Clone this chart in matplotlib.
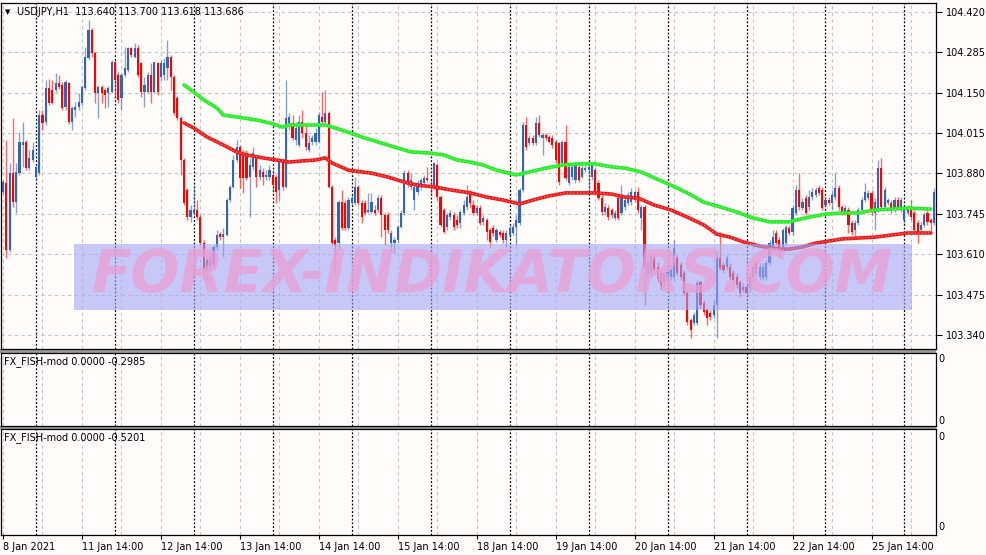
import matplotlib
matplotlib.use('Agg')
import matplotlib.pyplot as plt
import numpy as np
from matplotlib.patches import Rectangle

# ---------------- data (USDJPY H1 candles) ----------------
opens = [
103.818, 103.848, 103.624, 103.881, 103.784, 103.881, 103.975, 103.985, 103.898, 103.925,
103.868, 103.881, 104.075, 104.052, 104.166, 104.159, 104.159, 104.182, 104.176, 104.102,
104.182, 104.052, 104.092, 104.102, 104.116, 104.166, 104.266, 104.360, 104.283, 104.149,
104.169, 104.159, 104.149, 104.152, 104.253, 104.209, 104.132, 104.209, 104.226, 104.299,
104.269, 104.299, 104.249, 104.152, 104.152, 104.209, 104.152, 104.249, 104.203, 104.209,
104.233, 104.269, 104.203, 104.132, 104.065, 103.925, 103.825, 103.734, 103.748, 103.758,
103.734, 103.647, 103.557, 103.597, 103.574, 103.634, 103.677, 103.667, 103.674, 103.791,
103.835, 103.925, 103.968, 103.948, 103.948, 103.868, 103.902, 103.935, 103.868, 103.885,
103.868, 103.868, 103.875, 103.868, 103.825, 103.918, 103.835, 104.049, 104.049, 103.992,
103.975, 104.052, 104.015, 103.958, 103.985, 103.985, 103.985, 104.069, 104.052, 104.082,
103.835, 103.657, 103.647, 103.784, 103.781, 103.698, 103.781, 103.781, 103.835, 103.781,
103.781, 103.751, 103.751, 103.758, 103.758, 103.798, 103.741, 103.741, 103.647, 103.647,
103.657, 103.701, 103.748, 103.881, 103.835, 103.791, 103.818, 103.835, 103.848, 103.865,
103.841, 103.831, 103.908, 103.801, 103.758, 103.701, 103.734, 103.741, 103.724, 103.714,
103.748, 103.768, 103.815, 103.774, 103.748, 103.764, 103.718, 103.724, 103.691, 103.698,
103.657, 103.684, 103.681, 103.657, 103.674, 103.681, 103.701, 103.714, 103.825, 104.042,
103.982, 103.998, 103.982, 104.049, 103.998, 104.009, 104.002, 103.998, 103.985, 103.982,
103.915, 103.985, 103.848, 103.868, 103.858, 103.902, 103.868, 103.891, 103.891, 103.868,
103.891, 103.848, 103.798, 103.751, 103.764, 103.758, 103.731, 103.798, 103.748, 103.768,
103.781, 103.784, 103.791, 103.818, 103.731, 103.768, 103.540, 103.547, 103.597, 103.567,
103.547, 103.517, 103.524, 103.534, 103.534, 103.597, 103.574, 103.547, 103.480, 103.390,
103.380, 103.380, 103.517, 103.447, 103.423, 103.413, 103.407, 103.440, 103.597, 103.574,
103.567, 103.567, 103.547, 103.534, 103.517, 103.490, 103.500, 103.497, 103.534, 103.581,
103.534, 103.530, 103.534, 103.581, 103.634, 103.681, 103.657, 103.634, 103.647, 103.698,
103.684, 103.748, 103.825, 103.764, 103.798, 103.768, 103.801, 103.808, 103.831, 103.825,
103.774, 103.791, 103.781, 103.801, 103.831, 103.768, 103.751, 103.758, 103.714, 103.691,
103.714, 103.758, 103.791, 103.798, 103.815, 103.748, 103.758, 103.898, 103.768, 103.781,
103.781, 103.758, 103.791, 103.758, 103.724, 103.748, 103.764, 103.748, 103.714, 103.691,
103.708, 103.748, 103.724, 103.714,
]
highs = [
103.858, 103.992, 103.915, 104.065, 103.915, 104.019, 104.052, 103.992, 103.958, 103.985,
103.908, 104.092, 104.092, 104.193, 104.196, 104.193, 104.216, 104.209, 104.186, 104.193,
104.186, 104.106, 104.119, 104.149, 104.176, 104.303, 104.393, 104.366, 104.286, 104.176,
104.176, 104.166, 104.172, 104.259, 104.259, 104.219, 104.216, 104.303, 104.303, 104.303,
104.316, 104.310, 104.253, 104.203, 104.219, 104.249, 104.253, 104.253, 104.259, 104.266,
104.326, 104.276, 104.209, 104.139, 104.072, 103.932, 103.831, 103.774, 103.841, 103.791,
103.741, 103.657, 103.607, 103.607, 103.641, 103.691, 103.684, 103.698, 103.798, 103.841,
103.942, 103.992, 103.975, 103.958, 103.958, 103.932, 103.968, 103.942, 103.908, 103.898,
103.891, 103.908, 103.891, 103.875, 103.932, 103.932, 104.193, 104.082, 104.075, 104.052,
104.075, 104.092, 104.042, 104.009, 104.009, 104.032, 104.085, 104.152, 104.159, 104.089,
103.841, 103.667, 103.791, 103.825, 103.791, 103.801, 103.808, 103.868, 103.841, 103.791,
103.791, 103.815, 103.815, 103.774, 103.808, 103.808, 103.748, 103.751, 103.691, 103.667,
103.708, 103.758, 103.891, 103.891, 103.881, 103.841, 103.858, 103.865, 103.875, 103.902,
103.858, 103.918, 103.915, 103.808, 103.764, 103.748, 103.758, 103.751, 103.741, 103.758,
103.791, 103.841, 103.825, 103.791, 103.774, 103.774, 103.741, 103.731, 103.698, 103.708,
103.698, 103.691, 103.691, 103.691, 103.708, 103.714, 103.741, 103.831, 104.052, 104.069,
104.009, 104.009, 104.069, 104.075, 104.015, 104.015, 104.009, 104.009, 103.992, 103.985,
103.992, 104.042, 103.908, 103.908, 103.915, 103.908, 103.908, 103.908, 103.925, 103.918,
103.898, 103.858, 103.808, 103.781, 103.774, 103.764, 103.758, 103.808, 103.841, 103.801,
103.818, 103.831, 103.825, 103.835, 103.774, 103.774, 103.591, 103.614, 103.614, 103.584,
103.557, 103.557, 103.564, 103.574, 103.657, 103.607, 103.584, 103.557, 103.490, 103.397,
103.417, 103.524, 103.524, 103.457, 103.430, 103.423, 103.457, 103.624, 103.684, 103.584,
103.607, 103.581, 103.557, 103.547, 103.524, 103.514, 103.514, 103.547, 103.581, 103.591,
103.581, 103.581, 103.591, 103.657, 103.691, 103.691, 103.667, 103.698, 103.708, 103.708,
103.774, 103.841, 103.881, 103.798, 103.808, 103.825, 103.831, 103.835, 103.841, 103.835,
103.801, 103.801, 103.825, 103.881, 103.841, 103.774, 103.774, 103.768, 103.724, 103.724,
103.768, 103.801, 103.848, 103.825, 103.825, 103.798, 103.925, 103.932, 103.835, 103.798,
103.791, 103.801, 103.801, 103.801, 103.768, 103.774, 103.791, 103.758, 103.724, 103.718,
103.751, 103.758, 103.731, 103.831,
]
lows = [
103.812, 103.597, 103.617, 103.768, 103.748, 103.875, 103.902, 103.891, 103.891, 103.918,
103.858, 103.875, 104.025, 104.042, 104.109, 104.112, 104.152, 104.162, 104.092, 104.092,
104.045, 104.025, 104.069, 104.092, 104.109, 104.159, 104.259, 104.269, 104.116, 104.065,
104.116, 104.099, 104.102, 104.149, 104.132, 104.116, 104.092, 104.203, 104.219, 104.269,
104.266, 104.203, 104.136, 104.102, 104.149, 104.116, 104.149, 104.142, 104.193, 104.193,
104.193, 104.159, 104.075, 104.059, 103.875, 103.774, 103.724, 103.718, 103.741, 103.724,
103.641, 103.524, 103.524, 103.557, 103.564, 103.624, 103.657, 103.601, 103.671, 103.784,
103.831, 103.918, 103.831, 103.815, 103.858, 103.734, 103.891, 103.835, 103.858, 103.841,
103.858, 103.858, 103.818, 103.781, 103.791, 103.825, 103.831, 104.025, 103.992, 103.975,
103.968, 103.998, 103.958, 103.952, 103.975, 103.975, 103.982, 104.042, 104.042, 103.831,
103.641, 103.550, 103.624, 103.691, 103.691, 103.691, 103.774, 103.774, 103.774, 103.714,
103.741, 103.748, 103.748, 103.741, 103.751, 103.667, 103.641, 103.681, 103.614, 103.614,
103.647, 103.698, 103.741, 103.835, 103.825, 103.758, 103.808, 103.825, 103.841, 103.851,
103.808, 103.825, 103.791, 103.701, 103.681, 103.691, 103.724, 103.691, 103.698, 103.698,
103.741, 103.758, 103.764, 103.741, 103.741, 103.708, 103.708, 103.657, 103.631, 103.671,
103.651, 103.667, 103.647, 103.634, 103.664, 103.674, 103.641, 103.708, 103.818, 103.958,
103.975, 103.975, 103.975, 104.002, 103.942, 103.992, 103.982, 103.965, 103.915, 103.841,
103.908, 103.858, 103.841, 103.858, 103.848, 103.851, 103.865, 103.885, 103.818, 103.858,
103.808, 103.791, 103.741, 103.741, 103.724, 103.731, 103.724, 103.724, 103.741, 103.758,
103.774, 103.774, 103.784, 103.748, 103.691, 103.440, 103.530, 103.534, 103.547, 103.517,
103.490, 103.507, 103.514, 103.524, 103.524, 103.540, 103.524, 103.474, 103.373, 103.330,
103.373, 103.373, 103.430, 103.407, 103.373, 103.390, 103.397, 103.330, 103.557, 103.547,
103.557, 103.524, 103.514, 103.497, 103.467, 103.484, 103.467, 103.484, 103.524, 103.540,
103.524, 103.524, 103.524, 103.574, 103.624, 103.641, 103.601, 103.624, 103.641, 103.674,
103.674, 103.741, 103.758, 103.758, 103.741, 103.758, 103.791, 103.801, 103.808, 103.758,
103.768, 103.774, 103.758, 103.791, 103.758, 103.741, 103.741, 103.681, 103.674, 103.664,
103.708, 103.751, 103.784, 103.791, 103.741, 103.691, 103.751, 103.758, 103.758, 103.774,
103.748, 103.751, 103.758, 103.751, 103.714, 103.741, 103.724, 103.684, 103.647, 103.684,
103.701, 103.708, 103.681, 103.708,
]
closes = [
103.851, 103.624, 103.881, 103.784, 103.885, 103.985, 103.985, 103.898, 103.932, 103.958,
103.902, 104.075, 104.049, 104.166, 104.116, 104.116, 104.182, 104.169, 104.099, 104.186,
104.052, 104.099, 104.102, 104.119, 104.169, 104.269, 104.360, 104.283, 104.149, 104.169,
104.149, 104.142, 104.166, 104.253, 104.193, 104.126, 104.209, 104.233, 104.299, 104.276,
104.299, 104.209, 104.152, 104.176, 104.209, 104.152, 104.253, 104.152, 104.249, 104.249,
104.269, 104.203, 104.082, 104.065, 103.925, 103.781, 103.734, 103.758, 103.758, 103.734,
103.647, 103.557, 103.591, 103.567, 103.634, 103.674, 103.667, 103.677, 103.791, 103.835,
103.925, 103.968, 103.865, 103.865, 103.865, 103.908, 103.948, 103.868, 103.891, 103.868,
103.875, 103.891, 103.841, 103.818, 103.918, 103.835, 104.065, 104.069, 103.998, 104.032,
104.052, 104.015, 103.968, 103.982, 103.998, 104.015, 104.075, 104.052, 104.082, 103.835,
103.647, 103.641, 103.784, 103.698, 103.698, 103.791, 103.798, 103.835, 103.781, 103.734,
103.748, 103.758, 103.784, 103.748, 103.798, 103.741, 103.691, 103.691, 103.681, 103.657,
103.701, 103.748, 103.881, 103.841, 103.858, 103.835, 103.848, 103.858, 103.865, 103.858,
103.831, 103.915, 103.801, 103.708, 103.684, 103.741, 103.748, 103.701, 103.708, 103.751,
103.774, 103.801, 103.781, 103.748, 103.764, 103.714, 103.731, 103.684, 103.651, 103.681,
103.691, 103.674, 103.657, 103.681, 103.698, 103.701, 103.724, 103.825, 104.042, 103.968,
103.998, 103.982, 104.049, 104.009, 104.009, 103.998, 103.985, 103.975, 103.925, 103.851,
103.985, 103.865, 103.902, 103.902, 103.908, 103.858, 103.898, 103.898, 103.902, 103.908,
103.818, 103.798, 103.751, 103.768, 103.734, 103.741, 103.748, 103.731, 103.801, 103.791,
103.808, 103.818, 103.818, 103.758, 103.768, 103.567, 103.581, 103.607, 103.557, 103.530,
103.507, 103.547, 103.550, 103.557, 103.631, 103.547, 103.534, 103.480, 103.383, 103.356,
103.407, 103.514, 103.440, 103.417, 103.397, 103.400, 103.440, 103.597, 103.564, 103.557,
103.597, 103.534, 103.524, 103.507, 103.480, 103.500, 103.480, 103.534, 103.567, 103.547,
103.567, 103.567, 103.581, 103.647, 103.667, 103.647, 103.624, 103.691, 103.701, 103.681,
103.764, 103.825, 103.768, 103.784, 103.748, 103.801, 103.818, 103.825, 103.815, 103.764,
103.791, 103.781, 103.808, 103.831, 103.768, 103.748, 103.764, 103.708, 103.684, 103.714,
103.758, 103.791, 103.818, 103.815, 103.758, 103.784, 103.898, 103.768, 103.825, 103.791,
103.758, 103.791, 103.764, 103.791, 103.758, 103.764, 103.734, 103.691, 103.684, 103.708,
103.741, 103.718, 103.714, 103.818,
]

# moving averages (bar index, value)
ma_green_idx = [55, 58, 61, 65, 67, 71, 77, 81, 85, 87, 95, 98, 103, 109, 114, 120, 124, 130, 134, 138,
                142, 146, 150, 156, 160, 165, 170, 175, 180, 185, 189, 194, 198, 203, 208, 213, 218, 223, 228, 233,
                239, 241, 245, 250, 255, 260, 265, 270, 275, 282]
ma_green_val = [104.176, 104.152, 104.126, 104.099, 104.075, 104.069, 104.059, 104.049, 104.035, 104.042,
                104.042, 104.042, 104.025, 104.002, 103.985, 103.965, 103.952, 103.948, 103.942, 103.925,
                103.918, 103.908, 103.891, 103.875, 103.885, 103.898, 103.908, 103.912, 103.912, 103.902,
                103.898, 103.885, 103.865, 103.841, 103.815, 103.784, 103.768, 103.751, 103.731, 103.718,
                103.718, 103.724, 103.734, 103.744, 103.748, 103.748, 103.758, 103.761, 103.764, 103.761]
ma_red_idx = [55, 58, 62, 67, 71, 74, 79, 83, 87, 91, 95, 98, 100, 105, 112, 117, 122, 126, 131, 136,
              142, 147, 152, 157, 161, 166, 171, 176, 180, 185, 189, 193, 198, 203, 208, 213, 217, 221, 225, 230,
              236, 239, 243, 247, 251, 255, 260, 265, 270, 275, 282]
ma_red_val = [104.049, 104.032, 104.002, 103.975, 103.952, 103.942, 103.932, 103.925, 103.918, 103.922,
              103.925, 103.932, 103.915, 103.891, 103.881, 103.868, 103.851, 103.841, 103.835, 103.825,
              103.815, 103.801, 103.791, 103.778, 103.791, 103.805, 103.815, 103.815, 103.815, 103.811,
              103.801, 103.798, 103.774, 103.758, 103.734, 103.708, 103.677, 103.667, 103.651, 103.637,
              103.627, 103.627, 103.634, 103.647, 103.654, 103.661, 103.664, 103.667, 103.674, 103.681,
              103.681]

price_ticks = [103.340, 103.475, 103.610, 103.745, 103.880, 104.015, 104.150, 104.285, 104.420]
date_labels = ["8 Jan 2021", "11 Jan 14:00", "12 Jan 14:00", "13 Jan 14:00", "14 Jan 14:00",
               "15 Jan 14:00", "18 Jan 14:00", "19 Jan 14:00", "20 Jan 14:00", "21 Jan 14:00",
               "22 Jan 14:00", "25 Jan 14:00"]
title_text = "USDJPY,H1  113.640 113.700 113.618 113.686"
sub_labels = ["FX_FISH-mod 0.0000 -0.2985", "FX_FISH-mod 0.0000 -0.5201"]
watermark = "FOREX-INDIKATORS.COM"

# ---------------- style ----------------
BG = '#FFFCFA'
BLUE = '#3565B0'
RED = '#FF0000'
GRID = '#C4C4C4'
NARROW = ['Liberation Sans Narrow', 'DejaVu Sans']

n = min(len(opens), len(highs), len(lows), len(closes))
o = np.array(opens[:n]); h = np.array(highs[:n]); l = np.array(lows[:n]); c = np.array(closes[:n])
x = np.arange(n)

W, H = 987, 555
fig = plt.figure(figsize=(W / 100, H / 100), dpi=100)
fig.patch.set_facecolor(BG)

def fax(left, top, right, bottom):
    a = fig.add_axes([left / W, 1 - bottom / H, (right - left) / W, (bottom - top) / H])
    a.set_facecolor(BG)
    for s in a.spines.values():
        s.set_color('black'); s.set_linewidth(0.9)
    return a

ax = fax(1, 3, 936, 349)
ax1 = fax(1, 353, 936, 426)
ax2 = fax(1, 429, 936, 535)

# gray separators between panels
for y0, y1 in [(349, 353), (426, 429)]:
    fig.add_artist(Rectangle((0, 1 - y1 / H), 936 / W, (y1 - y0) / H,
                             transform=fig.transFigure, facecolor='#9A9A9A', edgecolor='none', zorder=-1))

xmin, xmax = -0.61, n - 1 + 0.6
light_grid = np.arange(0, n, 12)
day_sep = np.arange(10, n, 24)
for a in (ax, ax1, ax2):
    a.set_xlim(xmin, xmax)
    for gx in light_grid:
        a.axvline(gx, color=GRID, lw=0.8, ls=(0, (3, 3)), zorder=1)
    for gx in day_sep:
        a.axvline(gx, color='black', lw=0.9, ls=(0, (1.5, 1.5)), zorder=1)

# main panel
ax.set_ylim(103.293, 104.450)
for py in price_ticks:
    ax.axhline(py, color=GRID, lw=0.8, ls=(0, (3, 3)), zorder=1)

up = c >= o
body_col = np.where(up, BLUE, RED)
ax.vlines(x, l, h, colors=body_col, lw=1.0, alpha=0.6, zorder=3)
ax.bar(x, np.maximum(np.abs(c - o), 0.003), bottom=np.minimum(o, c), width=0.65,
       color=body_col, linewidth=0, zorder=4)

ax.plot(ma_green_idx, ma_green_val, color='#22EE22', lw=2.6, zorder=5, solid_capstyle='round')
ax.plot(ma_green_idx, ma_green_val, color='white', lw=0.8, alpha=0.55, ls=(0, (1, 2)), zorder=5)
ax.plot(ma_red_idx, ma_red_val, color='#F01818', lw=2.6, zorder=5, solid_capstyle='round')
ax.plot(ma_red_idx, ma_red_val, color='white', lw=0.8, alpha=0.55, ls=(0, (1, 2)), zorder=5)

# watermark
ax.add_patch(Rectangle((0.0781, 0.1127), 0.8962, 0.1908, transform=ax.transAxes,
                       facecolor='#A3A5F7', alpha=0.6, edgecolor='none', zorder=6))
ax.text(0.525, 0.212, watermark, transform=ax.transAxes, ha='center', va='center',
        fontsize=41.5, fontweight='bold', fontstyle='italic', color='#EA9FD2', alpha=0.75, zorder=7)

ax.yaxis.tick_right()
ax.set_yticks(price_ticks)
ax.set_yticklabels([f'{v:.3f}' for v in price_ticks])
ax.tick_params(axis='y', length=4, width=0.8, pad=3, labelsize=7, direction='out', colors='black')
ax.set_xticks([])

ax.text(0.0075, 0.974, '\u25BC', transform=ax.transAxes, ha='center', va='center', fontsize=5, color='black')
ax.text(0.0171, 0.974, title_text, transform=ax.transAxes, ha='left', va='center', fontsize=7, color='black')

# sub panels
for a, lab, ytop, ybot, lab_y in [(ax1, sub_labels[0], 0.918, 0.068, 0.877),
                                  (ax2, sub_labels[1], 0.925, 0.075, 0.915)]:
    a.set_ylim(0, 1)
    a.set_yticks([])
    a.text(0.0032, lab_y, lab, transform=a.transAxes, ha='left', va='center',
           fontsize=7, family=NARROW, color='black')
    a.text(1.003, ytop, '0', transform=a.transAxes, ha='left', va='center', fontsize=7, color='black')
    a.text(1.003, ybot, '0', transform=a.transAxes, ha='left', va='center', fontsize=7, color='black')

ax1.set_xticks([])
date_pos = np.arange(0, 24 * len(date_labels), 24)
ax2.set_xticks(date_pos)
ax2.set_xticklabels(date_labels, ha='left', family=NARROW)
ax2.tick_params(axis='x', length=3, width=0.8, pad=2, labelsize=7, colors='black')

fig.savefig('out.png', dpi=100, facecolor=BG)
